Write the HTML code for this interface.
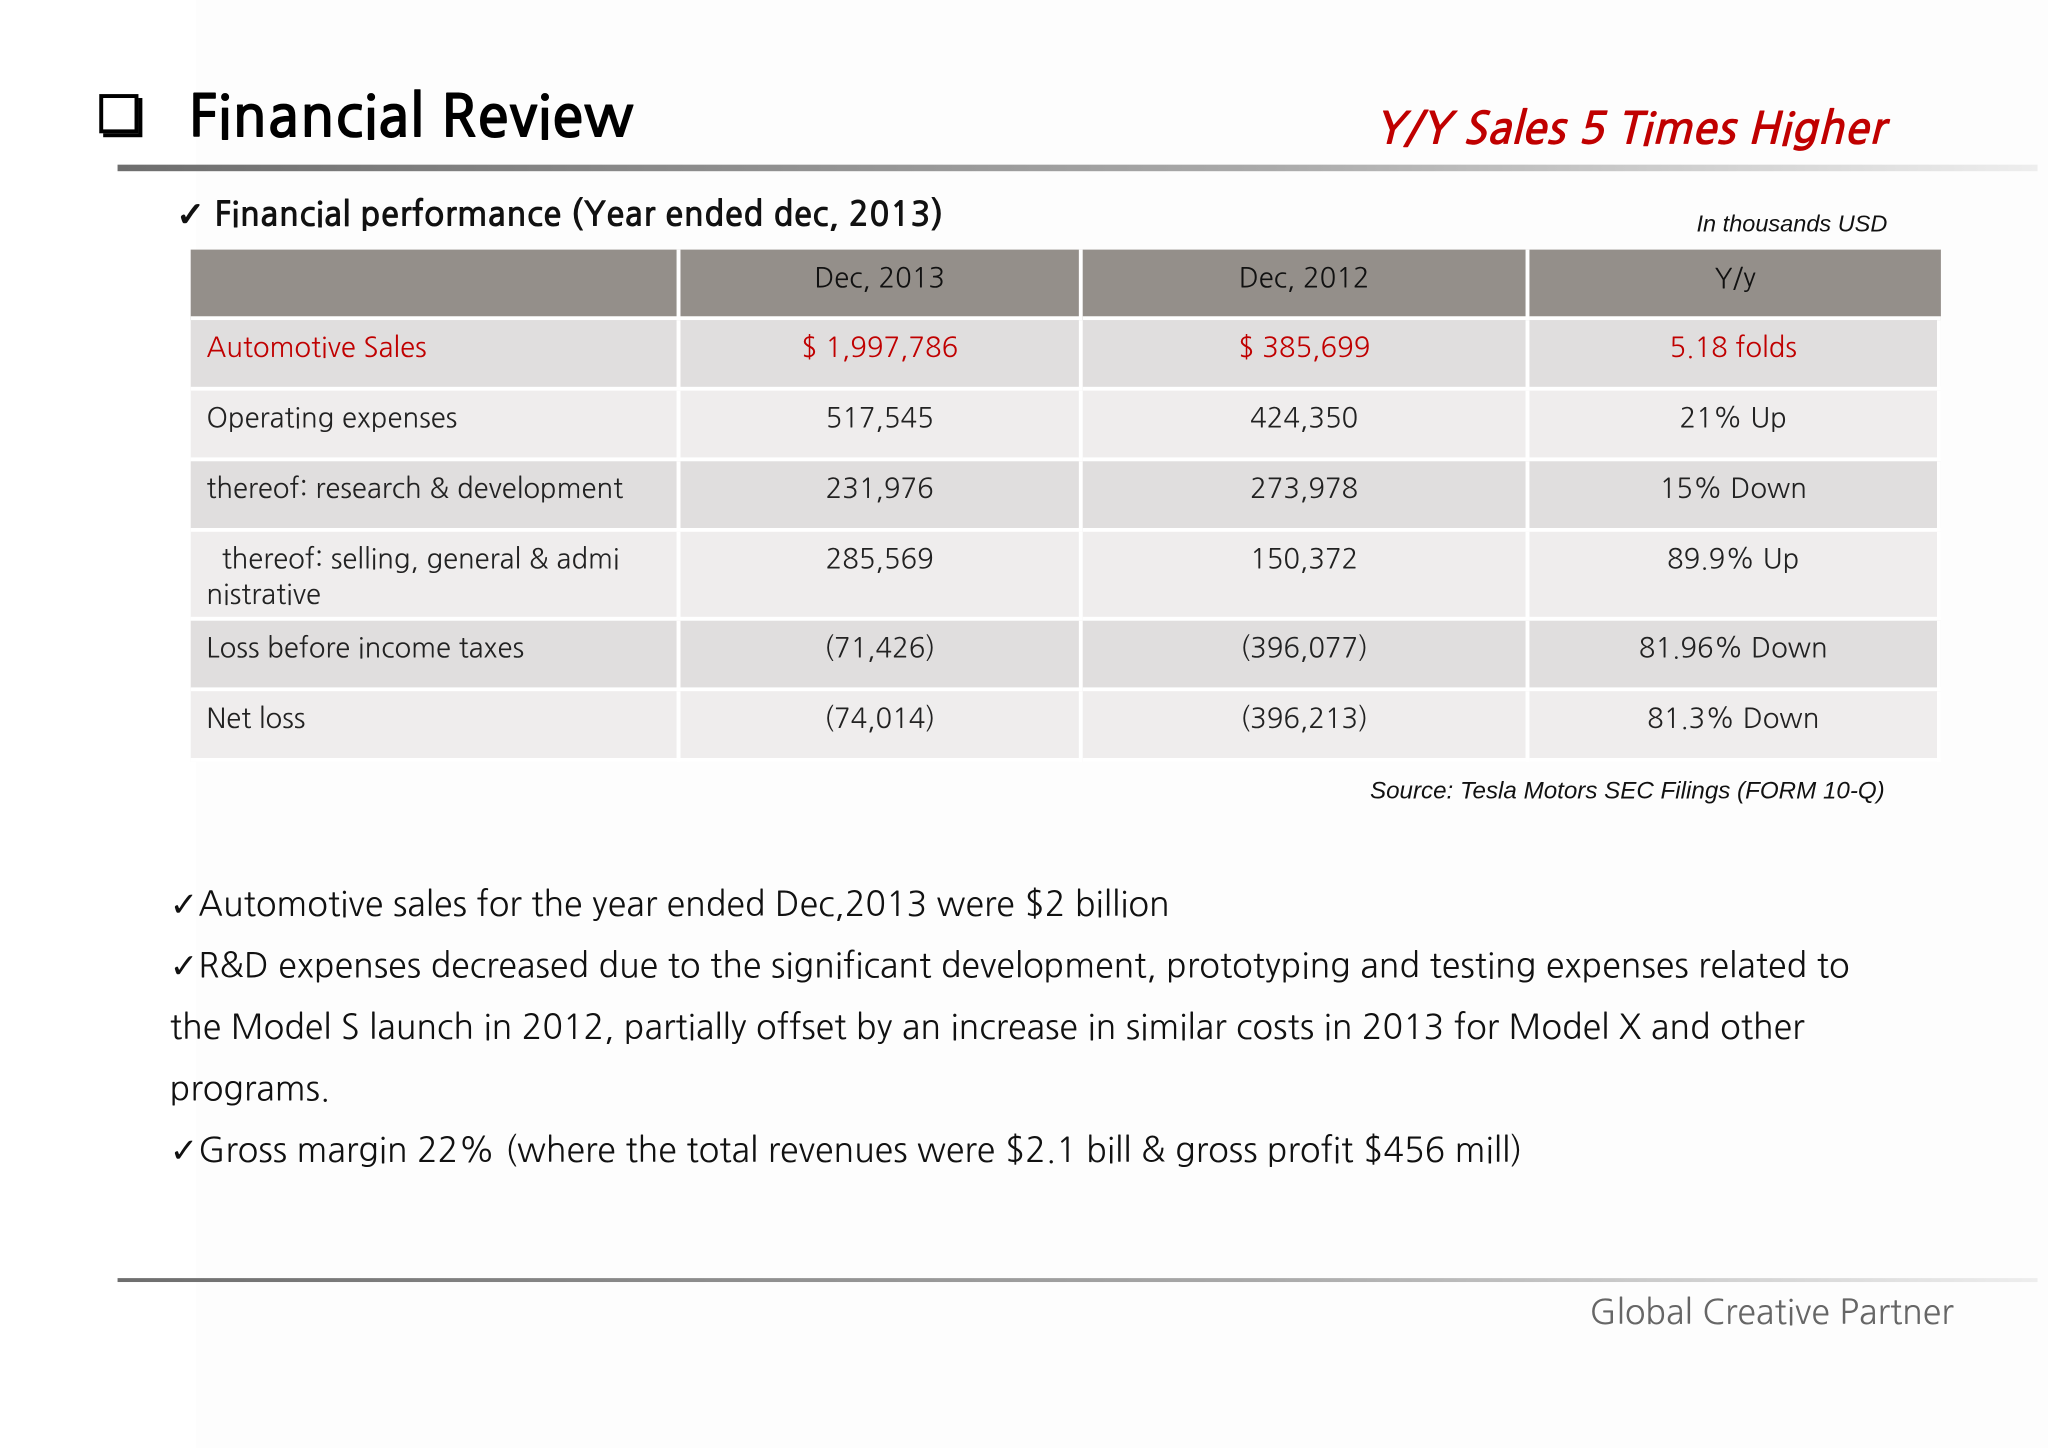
<!DOCTYPE html>
<html><head><meta charset="utf-8">
<style>
html,body{margin:0;padding:0;width:2048px;height:1448px;overflow:hidden;background:#fff;}
#stage{position:absolute;left:0;top:0;width:1568px;height:1108px;transform:scale(1.30612,1.30686);transform-origin:0 0;
 background:linear-gradient(90deg,#fff 0,#fff 150px,#fdfdfd 150px,#fdfdfd 100%);font-family:"Liberation Sans",sans-serif;}
.abs{position:absolute;}
.kr{font-family:"NanumGothic","Liberation Sans",sans-serif;}
table{border-collapse:separate;border-spacing:0;}
td{font-size:21px;color:#222;text-align:center;vertical-align:top;padding-top:9px;border-right:3px solid #fff;border-bottom:3px solid #fff;box-sizing:border-box;}
td.l{text-align:left;padding-left:12px;}
tr.h td{background:#948f8a;color:#111;padding-top:10px;}
tr.d td{background:#e0dede;}
tr.e td{background:#efeded;}
tr.r td{color:#c00000;}
.b{font-size:26px;color:#111;line-height:47px;}
</style></head><body>
<div id="stage">
 <div class="abs" style="left:76px;top:72px;width:24px;height:24px;border:3px solid #000;box-shadow:3px 3px 0 #000;background:#fff;"></div>
 <div class="abs kr" style="left:144px;top:67px;font-size:45px;font-weight:bold;color:#000;">Financial Review</div>
 <div class="abs kr" style="left:1052px;top:82px;font-size:34px;font-weight:bold;font-style:italic;color:#c00000;">Y/Y Sales 5 Times Higher</div>
 <div class="abs" style="left:90px;top:126px;width:1470px;height:5px;background:linear-gradient(90deg,#6e6e6e,#aaa 60%,#eee);"></div>
 <div class="abs kr" style="left:135px;top:150px;font-size:26px;font-weight:bold;color:#111;">✓ Financial performance (Year ended dec, 2013)</div>
 <div class="abs" style="left:1200px;top:161px;width:245px;text-align:right;font-size:18px;font-style:italic;color:#111;">In thousands USD</div>
 <table class="abs kr" style="left:146px;top:191px;width:1340px;">
  <colgroup><col style="width:375px"><col style="width:308px"><col style="width:342px"><col style="width:315px"></colgroup>
  <tr class="h" style="height:54px"><td></td><td>Dec, 2013</td><td>Dec, 2012</td><td style="border-right:0">Y/y</td></tr>
  <tr class="d r" style="height:54px"><td class="l">Automotive Sales</td><td>$ 1,997,786</td><td>$ 385,699</td><td>5.18 folds</td></tr>
  <tr class="e" style="height:54px"><td class="l">Operating expenses</td><td>517,545</td><td>424,350</td><td>21% Up</td></tr>
  <tr class="d" style="height:54px"><td class="l">thereof: research &amp; development</td><td>231,976</td><td>273,978</td><td>15% Down</td></tr>
  <tr class="e" style="height:68px"><td class="l" style="line-height:27px;padding-top:8px">&nbsp;&nbsp;thereof: selling, general &amp; admi<br>nistrative</td><td>285,569</td><td>150,372</td><td>89.9% Up</td></tr>
  <tr class="d" style="height:54px"><td class="l">Loss before income taxes</td><td>(71,426)</td><td>(396,077)</td><td>81.96% Down</td></tr>
  <tr class="e" style="height:54px"><td class="l">Net loss</td><td>(74,014)</td><td>(396,213)</td><td>81.3% Down</td></tr>
 </table>
 <div class="abs" style="left:900px;top:594px;width:543px;text-align:right;font-size:18.5px;font-style:italic;color:#111;">Source: Tesla Motors SEC Filings (FORM 10-Q)</div>
 <div class="abs kr b" style="left:130px;top:669px;width:1320px;">
  <div>✓Automotive sales for the year ended Dec,2013 were $2 billion</div>
  <div>✓R&amp;D expenses decreased due to the significant development, prototyping and testing expenses related to the Model S launch in 2012, partially offset by an increase in similar costs in 2013 for Model X and other programs.</div>
  <div>✓Gross margin 22% (where the total revenues were $2.1 bill &amp; gross profit $456 mill)</div>
 </div>
 <div class="abs" style="left:90px;top:978px;width:1470px;height:3px;background:linear-gradient(90deg,#6e6e6e,#aaa 60%,#eee);"></div>
 <div class="abs kr" style="left:1217px;top:988px;font-size:26px;color:#666;">Global Creative Partner</div>
</div>
</body></html>
